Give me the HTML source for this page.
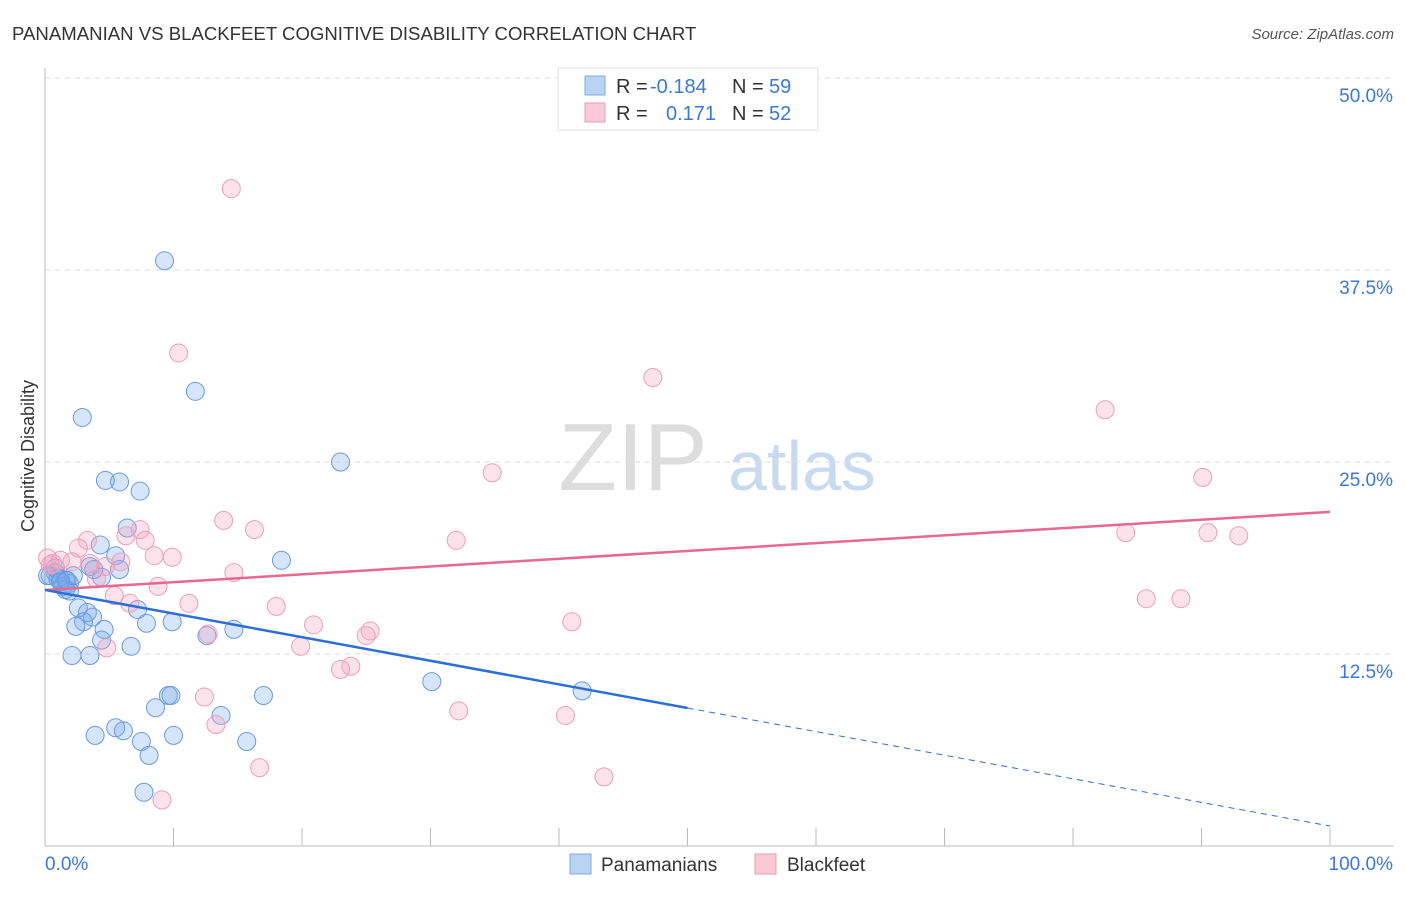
<!DOCTYPE html>
<html><head><meta charset="utf-8"><style>
body{margin:0;background:#fff;font-family:"Liberation Sans",sans-serif;}
svg text{font-family:"Liberation Sans",sans-serif;}
</style></head><body>
<svg id="chart" width="1406" height="892">
<text x="12" y="40" font-size="18.6" fill="#333">PANAMANIAN VS BLACKFEET COGNITIVE DISABILITY CORRELATION CHART</text>
<text x="1394" y="39" font-size="15" fill="#555" font-style="italic" text-anchor="end">Source: ZipAtlas.com</text>
<text x="0" y="0" transform="translate(34,456) rotate(-90)" font-size="18" fill="#333" text-anchor="middle">Cognitive Disability</text>
<g><text x="633" y="490" font-size="96" fill="#ddd" font-family="Liberation Serif" text-anchor="middle">ZIP</text><text x="802" y="490" font-size="70" fill="#c8daf2" text-anchor="middle">atlas</text></g>
<g id="grid"></g><g id="axes"></g><g id="marks"></g>
<g>
<rect x="558" y="68" width="260" height="62" fill="#fff" stroke="#ddd"/>
<rect x="585" y="76" width="20" height="19" fill="#b9d3f3" stroke="#7eaae6"/>
<rect x="585" y="103" width="20" height="19" fill="#f9c9d7" stroke="#ec9ab5"/>
<text x="616" y="93" font-size="20" fill="#333">R =</text><text x="650" y="93" font-size="20" fill="#3b78d8">-0.184</text>
<text x="732" y="93" font-size="20" fill="#333">N =</text><text x="769" y="93" font-size="20" fill="#3b78d8">59</text>
<text x="616" y="120" font-size="20" fill="#333">R =</text><text x="666" y="120" font-size="20" fill="#3b78d8">0.171</text>
<text x="732" y="120" font-size="20" fill="#333">N =</text><text x="769" y="120" font-size="20" fill="#3b78d8">52</text>
</g>
<g>
<rect x="570" y="854" width="21" height="20" fill="#b9d3f3" stroke="#7eaae6"/><text x="601" y="871" font-size="19" fill="#333">Panamanians</text>
<rect x="755" y="854" width="21" height="20" fill="#f9c9d7" stroke="#ec9ab5"/><text x="787" y="871" font-size="19" fill="#333">Blackfeet</text>
</g>
</svg>
<script>
const yTicks=[12.5,25,37.5,50];
const yTickLabels=["12.5%","25.0%","37.5%","50.0%"];
const xTicks=[0,10,20,30,40,50,60,70,80,90,100];
const blueX=[9.3,11.7,2.9,23.0,4.7,5.8,7.4,6.4,4.3,5.5,18.4,3.5,5.8,4.4,0.4,0.8,1.2,1.6,1.9,1.4,1.9,2.6,3.3,3.7,3.0,2.4,4.6,7.2,7.9,9.9,12.6,14.7,4.4,6.7,2.1,3.5,30.1,41.8,9.6,9.8,17.0,8.6,13.7,5.5,6.1,3.9,10.0,7.5,15.7,8.1,7.7,0.8,0.2,1.0,1.6,1.7,2.2,3.8,1.2];
const blueY=[38.1,29.6,27.9,25.0,23.8,23.7,23.1,20.7,19.6,18.9,18.6,18.2,18.0,17.5,17.6,17.8,17.4,17.3,17.1,16.9,16.6,15.5,15.2,14.9,14.6,14.3,14.1,15.4,14.5,14.6,13.7,14.1,13.4,13.0,12.4,12.4,10.7,10.1,9.8,9.8,9.8,9.0,8.5,7.7,7.5,7.2,7.2,6.8,6.8,5.9,3.5,18.1,17.6,17.4,16.7,17.3,17.6,18.0,17.2];
const pinkX=[14.5,10.4,47.3,82.5,34.8,90.1,13.9,16.3,7.4,6.3,7.8,3.3,32.0,84.1,90.5,92.9,2.6,8.5,9.9,4.7,5.9,2.1,0.2,0.6,14.7,4.0,8.8,5.4,6.6,11.2,18.0,85.7,88.4,41.0,20.9,25.3,25.0,12.7,19.9,4.8,23.8,23.0,12.4,13.3,32.2,40.5,16.7,43.5,9.1,1.2,3.5,0.4];
const pinkY=[42.8,32.1,30.5,28.4,24.3,24.0,21.2,20.6,20.6,20.2,19.9,19.9,19.9,20.4,20.4,20.2,19.4,18.9,18.8,18.2,18.5,18.5,18.75,18.4,17.8,17.4,16.9,16.3,15.8,15.8,15.6,16.1,16.1,14.6,14.4,14.0,13.7,13.8,13.0,12.9,11.7,11.5,9.7,7.9,8.8,8.5,5.1,4.5,3.0,18.6,18.4,18.3];
const blueTrend=[16.67,1.3];
const pinkTrend=[16.67,21.75];
const NS="http://www.w3.org/2000/svg";
const X0=45,X1=1330,Y0=846,YS=768/50;
const sx=v=>X0+v/100*(X1-X0), sy=v=>Y0-v*YS;
function mk(tag,attrs,parent){const e=document.createElementNS(NS,tag);for(const k in attrs)e.setAttribute(k,attrs[k]);document.getElementById(parent).appendChild(e);return e;}
yTicks.forEach((t,i)=>{
 const l=mk('line',{x1:45,x2:1394,y1:sy(t),y2:sy(t),stroke:'#ddd','stroke-dasharray':'5,5'},'grid');
 
 
 const tx=mk('text',{x:1393,y:sy(t)+24,'font-size':19,fill:'#3b78d8','text-anchor':'end'},'grid');tx.textContent=yTickLabels[i];
 
 
});
const ax=mk('line',{x1:45,x2:1394,y1:Y0,y2:Y0,stroke:'#bbb'},'axes');


const ay=mk('line',{x1:45,x2:45,y1:68,y2:Y0,stroke:'#bbb'},'axes');


xTicks.slice(1).forEach(t=>{const tk=mk('line',{x1:sx(t),x2:sx(t),y1:Y0,y2:Y0-18,stroke:'#bbb'},'axes');
 
 });
let t0=mk('text',{x:45,y:870,'font-size':19,fill:'#3b78d8'},'axes');t0.textContent='0.0%';


let t1=mk('text',{x:1393,y:870,'font-size':19,fill:'#3b78d8','text-anchor':'end'},'axes');t1.textContent='100.0%';


blueX.forEach((v,i)=>{const c=mk('circle',{cx:sx(v),cy:sy(blueY[i]),r:9,fill:'rgba(120,170,235,0.3)',stroke:'#6a9ade','stroke-width':1},'marks');
 
 });
pinkX.forEach((v,i)=>{const c=mk('circle',{cx:sx(v),cy:sy(pinkY[i]),r:9,fill:'rgba(245,160,190,0.3)',stroke:'#eba0b8','stroke-width':1},'marks');
 
 });
const bAt=x=>blueTrend[0]+(blueTrend[1]-blueTrend[0])*x/100;
const pl=mk('line',{x1:sx(0),y1:sy(pinkTrend[0]),x2:sx(100),y2:sy(pinkTrend[1]),stroke:'#e8688f','stroke-width':2.5},'marks');


const bl=mk('line',{x1:sx(0),y1:sy(bAt(0)),x2:sx(50),y2:sy(bAt(50)),stroke:'#2b6fd6','stroke-width':2.5},'marks');


const bd=mk('line',{x1:sx(50),y1:sy(bAt(50)),x2:sx(100),y2:sy(bAt(100)),stroke:'#2b6fd6','stroke-width':1,'stroke-dasharray':'6,5'},'marks');


</script>
</body></html>
